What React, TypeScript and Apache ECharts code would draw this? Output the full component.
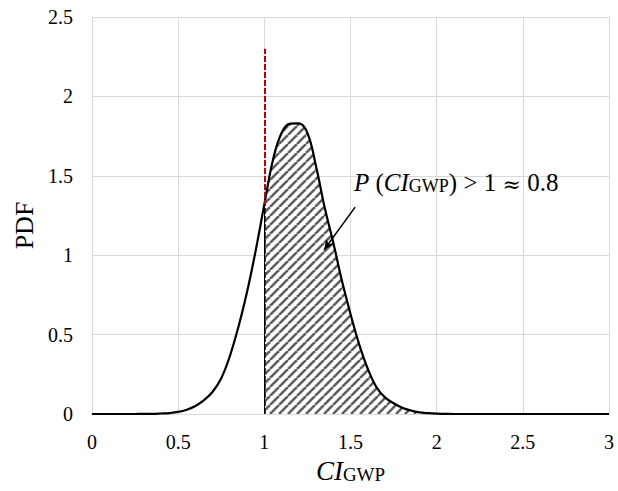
import React, { useEffect, useRef } from "react";
import * as echarts from "echarts";

const xValues = [
  0, 0.05, 0.1, 0.15, 0.2, 0.25, 0.3, 0.35, 0.4, 0.45,
  0.5, 0.55, 0.6, 0.65, 0.7, 0.75, 0.8, 0.85, 0.9, 0.95,
  1.0, 1.05, 1.1, 1.15, 1.2, 1.25, 1.3, 1.35, 1.4, 1.45,
  1.5, 1.55, 1.6, 1.65, 1.7, 1.75, 1.8, 1.85, 1.9, 1.95,
  2.0, 2.05, 2.1, 2.15, 2.2, 2.25, 2.3, 2.35, 2.4, 2.45,
  2.5, 2.55, 2.6, 2.65, 2.7, 2.75, 2.8, 2.85, 2.9, 2.95, 3.0,
];
const pdfValues = [
  0, 0, 0, 0, 0, 0, 0.001, 0.001, 0.003, 0.006,
  0.013, 0.027, 0.05, 0.087, 0.14, 0.225, 0.365, 0.55, 0.77, 1.03,
  1.32, 1.6, 1.77, 1.828, 1.83, 1.77, 1.56, 1.3, 1.08, 0.84,
  0.63, 0.44, 0.285, 0.17, 0.105, 0.068, 0.04, 0.022, 0.01, 0.005,
  0.002, 0.001, 0, 0, 0, 0, 0, 0, 0, 0,
  0, 0, 0, 0, 0, 0, 0, 0, 0, 0, 0,
];
const threshold = 1;
const thresholdTop = 2.3;
const arrowFrom = [1.527, 1.303];
const arrowTo = [1.347, 1.034];
const xTicks = { min: 0, max: 3, interval: 0.5 };
const yTicks = { min: 0, max: 2.5, interval: 0.5 };

// annotation pieces: [text, kind]; kind: i = italic, n = normal, s = small, a = symbol, g = gap
const annotationPieces: [string, string][] = [
  ["P", "i"], [" ", "g"], ["(", "n"], ["CI", "i"], ["GWP", "s"], [")", "n"], [" ", "g"],
  [">", "n"], [" ", "g"], ["1", "n"], [" ", "g"], ["≈", "a"], [" ", "g"], ["0.8", "n"],
];

const SERIF = "Liberation Serif";

export default function App() {
  const ref = useRef<HTMLDivElement>(null);
  useEffect(() => {
    if (!ref.current) return;
    const chart = echarts.init(ref.current, null, { renderer: "svg" });

    const T = 9;
    const tile = document.createElement("canvas");
    tile.width = T;
    tile.height = T;
    const ctx = tile.getContext("2d");
    if (ctx) {
      ctx.fillStyle = "#ffffff";
      ctx.fillRect(0, 0, T, T);
      ctx.strokeStyle = "#606060";
      ctx.lineWidth = 2.6;
      for (const k of [-T, 0, T]) {
        ctx.beginPath();
        ctx.moveTo(k, T);
        ctx.lineTo(k + T, 0);
        ctx.stroke();
      }
    }

    const fonts: Record<string, string> = {
      i: "italic 25px 'Liberation Serif'",
      n: "25px 'Liberation Serif'",
      g: "25px 'Liberation Serif'",
      s: "18px 'Liberation Serif'",
      a: "22px 'DejaVu Serif'",
    };
    const mcanvas = document.createElement("canvas");
    const mctx = mcanvas.getContext("2d");
    let cx = 354;
    const bottomY = 195;
    const annotation: any[] = [];
    for (const [t, kind] of annotationPieces) {
      let w = 10;
      if (mctx) {
        mctx.font = fonts[kind];
        w = mctx.measureText(t).width;
      }
      if (kind !== "g") {
        annotation.push({
          type: "text",
          x: cx,
          y: bottomY,
          z: 10,
          silent: true,
          style: { text: t, font: fonts[kind], fill: "#000", align: "left", verticalAlign: "bottom" },
        });
      }
      cx += w;
    }

    const curve = xValues.map((x, i) => [x, pdfValues[i]]);
    const tail = curve.filter((p) => p[0] >= threshold && p[0] <= 2.1);
    const yAtThreshold = pdfValues[xValues.indexOf(threshold)];

    const gridColor = "#d9d9d9";

    chart.setOption({
      animation: false,
      grid: { left: 92, right: 9, top: 17, bottom: 77, containLabel: false },
      xAxis: {
        type: "value",
        ...xTicks,
        name: "{i|CI}{s|GWP}",
        nameLocation: "middle",
        nameGap: 43,
        nameTextStyle: {
          rich: {
            i: { fontFamily: SERIF, fontStyle: "italic", fontSize: 27, color: "#000", verticalAlign: "bottom" },
            s: { fontFamily: SERIF, fontSize: 19, color: "#000", verticalAlign: "bottom" },
          },
        },
        axisLine: { show: true, lineStyle: { color: gridColor } },
        axisTick: { show: false },
        axisLabel: { margin: 18, fontFamily: SERIF, fontSize: 20, color: "#000" },
        splitLine: { show: true, lineStyle: { color: gridColor, width: 1 } },
      },
      yAxis: {
        type: "value",
        ...yTicks,
        name: "PDF",
        nameLocation: "middle",
        nameGap: 54,
        nameTextStyle: { fontFamily: SERIF, fontSize: 26, color: "#000", padding: [0, 20, 0, 0] },
        axisLine: { show: true, lineStyle: { color: gridColor } },
        axisTick: { show: false },
        axisLabel: { margin: 19, fontFamily: SERIF, fontSize: 20, color: "#000" },
        splitLine: { show: true, lineStyle: { color: gridColor, width: 1 } },
      },
      graphic: annotation,
      series: [
        {
          type: "line",
          data: [],
          z: 1,
          silent: true,
          markLine: {
            silent: true,
            symbol: ["none", "none"],
            label: { show: false },
            lineStyle: { color: "#c00000", width: 2, type: [6, 2] },
            data: [[{ coord: [threshold, 0] }, { coord: [threshold, thresholdTop] }]],
          },
        },
        {
          type: "line",
          data: tail,
          z: 2,
          smooth: 0.4,
          showSymbol: false,
          silent: true,
          lineStyle: { width: 1, color: "#000" },
          areaStyle: { color: { image: tile, repeat: "repeat" }, opacity: 1 },
        },
        {
          type: "line",
          data: [],
          z: 3,
          silent: true,
          markLine: {
            silent: true,
            symbol: ["none", "none"],
            label: { show: false },
            lineStyle: { color: "#000", width: 1, type: "solid" },
            data: [[{ coord: [threshold, 0] }, { coord: [threshold, yAtThreshold] }]],
          },
        },
        {
          type: "line",
          data: curve,
          z: 4,
          smooth: 0.4,
          showSymbol: false,
          silent: true,
          lineStyle: { width: 2.2, color: "#000" },
        },
        {
          type: "line",
          data: [],
          z: 5,
          silent: true,
          markLine: {
            silent: true,
            symbol: ["none", "arrow"],
            symbolSize: [7, 10],
            label: { show: false },
            lineStyle: { color: "#000", width: 1.5, type: "solid" },
            data: [[{ coord: arrowFrom }, { coord: arrowTo }]],
          },
        },
      ],
    });
    return () => chart.dispose();
  }, []);
  return <div ref={ref} style={{ position: "absolute", left: 0, top: 0, width: 618, height: 491 }} />;
}
